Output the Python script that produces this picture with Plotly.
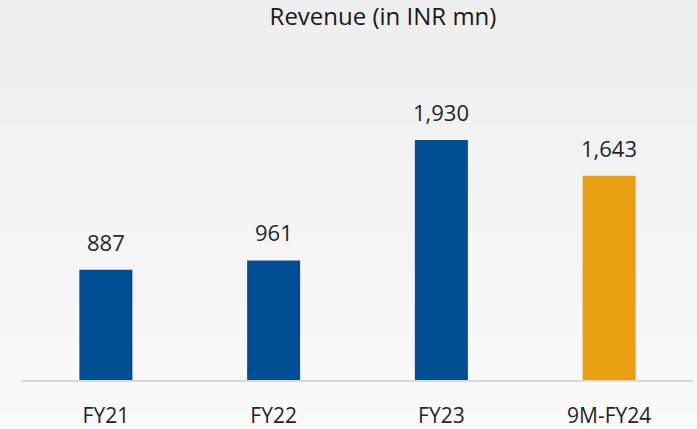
import plotly.graph_objects as go

categories = ["FY21", "FY22", "FY23", "9M-FY24"]
revenue = [887, 961, 1930, 1643]
bar_colors = ["#004F95", "#004F95", "#004F95", "#E9A010"]
title_text = "Revenue (in INR mn)"

fig = go.Figure()
fig.add_trace(go.Bar(
    x=categories, y=revenue,
    marker=dict(color=bar_colors, line=dict(width=0)),
    width=0.316,
    hoverinfo="skip",
))

for c, v in zip(categories, revenue):
    fig.add_annotation(x=c, y=v, text=f"{v:,}", showarrow=False,
                       yanchor="bottom", yshift=11,
                       font=dict(family="Open Sans", size=22, color="#262626"))

# background gradient bands
n = 24
top = (238, 238, 238)
bot = (250, 250, 250)
shapes = []
H = 429.0
plot_top, plot_bot = 82.0, 380.0
ph = plot_bot - plot_top
for i in range(n):
    t = i / (n - 1)
    col = tuple(int(round(top[k] + (bot[k] - top[k]) * t)) for k in range(3))
    y0px = H * i / n
    y1px = H * (i + 1) / n + 1
    y0 = (plot_bot - y1px) / ph
    y1 = (plot_bot - y0px) / ph
    shapes.append(dict(type="rect", xref="paper", yref="paper",
                       x0=-0.1, x1=1.1, y0=y0, y1=y1,
                       fillcolor="rgb(%d,%d,%d)" % col, line=dict(width=0),
                       layer="below"))

fig.update_layout(
    width=697, height=429,
    margin=dict(l=22, r=4, t=82, b=49, autoexpand=False),
    paper_bgcolor="#f3f3f3",
    plot_bgcolor="rgba(0,0,0,0)",
    showlegend=False,
    shapes=shapes,
    title=dict(text=title_text, x=383 / 697, xanchor="center", xref="container",
               y=1 - 17 / 429, yanchor="middle", yref="container",
               font=dict(family="Open Sans", size=24, color="#1a1a1a")),
    xaxis=dict(showgrid=False, showline=True, linecolor="#d9d9d9", linewidth=2,
               ticks="outside", ticklen=16, tickcolor="rgba(0,0,0,0)",
               tickfont=dict(family="Open Sans", size=21, color="#262626"),
               automargin=False, fixedrange=True),
    yaxis=dict(visible=False, range=[0, 2396], fixedrange=True, automargin=False),
    bargap=0.684,
)

fig.write_html("out.html", config={"displayModeBar": False},
               post_script="document.body.style.margin='0';document.body.style.background='#f3f3f3';")
